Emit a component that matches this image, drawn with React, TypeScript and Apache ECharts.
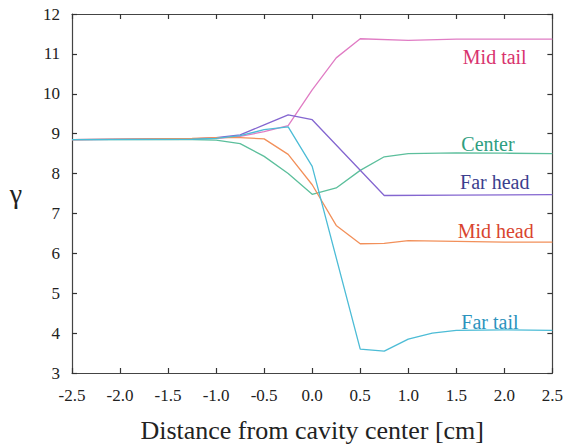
import React, { useEffect, useRef } from "react";
import * as echarts from "echarts";

const xTicks = [-2.5, -2.0, -1.5, -1.0, -0.5, 0.0, 0.5, 1.0, 1.5, 2.0, 2.5];
const yTicks = [3, 4, 5, 6, 7, 8, 9, 10, 11, 12];

const midTailX = [-2.5, -1.25, -1.0, -0.75, -0.5, -0.25, 0, 0.25, 0.5, 1.0, 1.5, 2.0, 2.5];
const midTailY = [8.85, 8.87, 8.88, 8.93, 9.05, 9.2, 10.1, 10.9, 11.38, 11.34, 11.37, 11.37, 11.37];

const centerX = [-2.5, -1.25, -1.0, -0.75, -0.5, -0.25, 0, 0.25, 0.5, 0.75, 1.0, 1.5, 2.0, 2.5];
const centerY = [8.85, 8.85, 8.84, 8.75, 8.43, 8.0, 7.48, 7.64, 8.08, 8.42, 8.5, 8.52, 8.51, 8.5];

const farHeadX = [-2.5, -1.25, -1.0, -0.75, -0.5, -0.25, 0, 0.75, 1.5, 2.5];
const farHeadY = [8.85, 8.87, 8.9, 8.97, 9.22, 9.47, 9.35, 7.45, 7.46, 7.47];

const midHeadX = [-2.5, -1.25, -1.0, -0.75, -0.5, -0.25, 0, 0.25, 0.5, 0.75, 1.0, 1.5, 2.0, 2.5];
const midHeadY = [8.85, 8.88, 8.9, 8.9, 8.87, 8.48, 7.72, 6.7, 6.24, 6.25, 6.32, 6.3, 6.28, 6.28];

const farTailX = [-2.5, -1.25, -1.0, -0.75, -0.5, -0.25, 0, 0.5, 0.75, 1.0, 1.25, 1.5, 2.0, 2.5];
const farTailY = [8.85, 8.86, 8.88, 8.95, 9.1, 9.17, 8.18, 3.6, 3.55, 3.85, 4.0, 4.07, 4.08, 4.07];

const seriesNames = ["Mid tail", "Center", "Far head", "Mid head", "Far tail"];
const lineColors = ["#e07cc4", "#5cbf9c", "#8466d0", "#f2905a", "#4cbcd6"];
const textColors = ["#d8336e", "#2f9e80", "#3c3f8e", "#d9442e", "#2c93bd"];
// label anchor in data space (x, y)
const labelX = [1.9, 1.83, 1.9, 1.91, 1.85];
const labelY = [10.92, 8.75, 7.8, 6.56, 4.27];

const FONT = "Liberation Serif";

function zip(xs: number[], ys: number[]) {
  return xs.map((x, i) => [x, ys[i]]);
}

export default function App() {
  const ref = useRef<HTMLDivElement>(null);
  useEffect(() => {
    document.body.style.margin = "0";
    const chart = echarts.init(ref.current!, null, { renderer: "svg" });
    const datas = [
      zip(midTailX, midTailY),
      zip(centerX, centerY),
      zip(farHeadX, farHeadY),
      zip(midHeadX, midHeadY),
      zip(farTailX, farTailY),
    ];
    const axisLine = { show: true, onZero: false, lineStyle: { color: "#444", width: 1.2 } };
    const axisTick = { show: true, inside: true, length: 5, lineStyle: { color: "#333", width: 1.2 } };
    chart.setOption({
      animation: false,
      backgroundColor: "#ffffff",
      textStyle: { fontFamily: FONT },
      grid: { left: 72, right: 8, top: 14, bottom: 71, containLabel: false },
      xAxis: [
        {
          type: "value",
          min: -2.5,
          max: 2.5,
          interval: 0.5,
          axisLine,
          axisTick,
          splitLine: { show: false },
          axisLabel: {
            color: "#222",
            fontFamily: FONT,
            fontSize: 17,
            margin: 14,
            formatter: (v: number) => {
              const t = xTicks.find((k) => Math.abs(k - v) < 1e-9);
              return t === undefined ? "" : t.toFixed(1);
            },
          },
          name: "Distance from cavity center [cm]",
          nameLocation: "middle",
          nameGap: 44,
          nameTextStyle: { color: "#222", fontFamily: FONT, fontSize: 26 },
        },
        {
          type: "value",
          position: "top",
          min: -2.5,
          max: 2.5,
          interval: 0.5,
          axisLine,
          axisTick,
          axisLabel: { show: false },
          splitLine: { show: false },
        },
      ],
      yAxis: [
        {
          type: "value",
          min: 3,
          max: 12,
          interval: 1,
          axisLine,
          axisTick,
          splitLine: { show: false },
          axisLabel: {
            color: "#222",
            fontFamily: FONT,
            fontSize: 17,
            margin: 12,
            formatter: (v: number) => (yTicks.includes(v) ? String(v) : ""),
          },
          name: "γ",
          nameLocation: "middle",
          nameRotate: 0,
          nameGap: 50,
          nameTextStyle: { color: "#222", fontFamily: FONT, fontSize: 28 },
        },
        {
          type: "value",
          position: "right",
          min: 3,
          max: 12,
          interval: 1,
          axisLine,
          axisTick,
          axisLabel: { show: false },
          splitLine: { show: false },
        },
      ],
      series: datas.map((d, i) => ({
        name: seriesNames[i],
        type: "line",
        data: d,
        symbol: "none",
        lineStyle: { color: lineColors[i], width: 1.3 },
        z: 2 + i,
        markPoint: {
          symbol: "circle",
          symbolSize: 0,
          silent: true,
          data: [{ coord: [labelX[i], labelY[i]], value: seriesNames[i] }],
          label: {
            show: true,
            position: "inside",
            formatter: seriesNames[i],
            color: textColors[i],
            fontFamily: FONT,
            fontSize: 20,
          },
        },
      })),
    });
    return () => chart.dispose();
  }, []);
  return <div ref={ref} style={{ width: 566, height: 448 }} />;
}
